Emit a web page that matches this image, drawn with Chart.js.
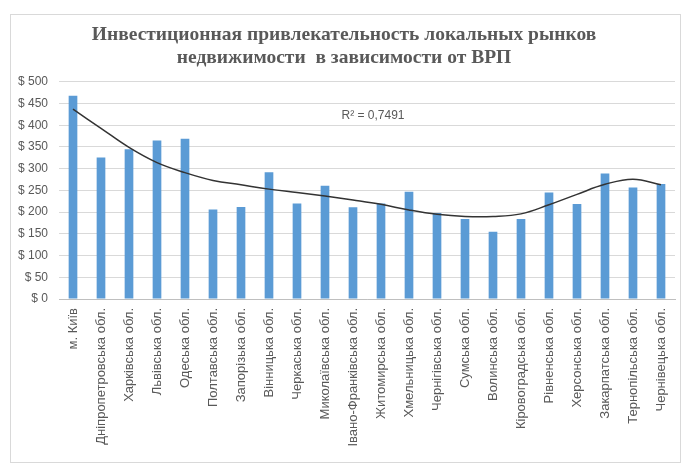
<!DOCTYPE html>
<html>
<head>
<meta charset="utf-8">
<script src="https://cdn.jsdelivr.net/npm/chart.js@4"></script>
<style>
  html, body { margin: 0; padding: 0; background: #fff; }
  #wrap { position: relative; width: 688px; height: 466px; }
  #frame { position: absolute; left: 10px; top: 14px; width: 669px; height: 447px; border: 1px solid #d9d9d9; }
  canvas { position: absolute; left: 0; top: 0; }
</style>
</head>
<body>
<div id="wrap">
  <div id="frame"></div>
  <canvas id="vrpChart" width="688" height="466"></canvas>
</div>
<script>
// Regions (x axis)
const regions = [
  'м. Київ', 'Дніпропетровська обл.', 'Харківська обл.', 'Львівська обл.',
  'Одеська обл.', 'Полтавська обл.', 'Запорізька обл.', 'Вінницька обл.',
  'Черкаська обл.', 'Миколаївська обл.', 'Івано-Франківська обл.', 'Житомирська обл.',
  'Хмельницька обл.', 'Чернігівська обл.', 'Сумська обл.', 'Волинська обл.',
  'Кіровоградська обл.', 'Рівненська обл.', 'Херсонська обл.', 'Закарпатська обл.',
  'Тернопільська обл.', 'Чернівецька обл.'
];

// Investment attractiveness per region, $
const values = [468, 326, 345, 365, 369, 206, 212, 292, 220, 261, 211,
                220, 247, 198, 184, 155, 184, 245, 219, 289, 257, 265];

// Polynomial trend line read at each region
const trend = [437, 393, 349, 314, 291, 273, 263, 253, 245, 237, 228,
               218, 205, 195, 190, 190, 196, 217, 241, 264, 276, 263];

const rSquared = 'R² = 0,7491';
const titleLines = [
  'Инвестиционная привлекательность локальных рынков',
  'недвижимости  в зависимости от ВРП'
];

const textGray = '#595959';

// R² caption next to the trend line
const r2Label = {
  id: 'r2Label',
  afterDatasetsDraw(chart) {
    const { ctx, scales } = chart;
    const x = scales.x.getPixelForValue(11) - 8;
    const y = scales.y.getPixelForValue(421);
    ctx.save();
    ctx.fillStyle = textGray;
    ctx.font = '12px "Liberation Sans", sans-serif';
    ctx.textAlign = 'center';
    ctx.textBaseline = 'middle';
    ctx.fillText(rSquared, x, y);
    ctx.restore();
  }
};

new Chart(document.getElementById('vrpChart'), {
  type: 'bar',
  data: {
    labels: regions,
    datasets: [
      {
        type: 'line',
        data: trend,
        borderColor: '#333333',
        borderWidth: 1.5,
        pointRadius: 0,
        tension: 0.4,
        fill: false,
        order: 0
      },
      {
        data: values,
        backgroundColor: '#5b9bd5',
        barPercentage: 0.31,
        categoryPercentage: 1,
        order: 1
      }
    ]
  },
  options: {
    responsive: false,
    animation: false,
    layout: { padding: { left: 13, right: 13, top: 0, bottom: 0 } },
    plugins: {
      legend: { display: false },
      tooltip: { enabled: false },
      title: {
        display: true,
        text: titleLines,
        color: textGray,
        font: { family: '"Liberation Serif", serif', size: 19.5, weight: 'bold', lineHeight: 1.15 },
        padding: { top: 24, bottom: 13 }
      }
    },
    scales: {
      x: {
        grid: { display: false, drawTicks: false },
        border: { color: '#bfbfbf' },
        afterFit(scale) { scale.height = 167; },
        ticks: {
          color: textGray,
          font: { family: '"Liberation Sans", sans-serif', size: 13 },
          minRotation: 90,
          maxRotation: 90,
          autoSkip: false,
          padding: 9
        }
      },
      y: {
        min: 0,
        max: 500,
        grid: { color: '#d9d9d9', drawTicks: false },
        border: { display: false },
        afterFit(scale) { scale.width = 46; },
        ticks: {
          stepSize: 50,
          color: textGray,
          font: { family: '"Liberation Sans", sans-serif', size: 12 },
          padding: 11,
          callback: v => '$ ' + v
        }
      }
    }
  },
  plugins: [r2Label]
});
</script>
</body>
</html>
